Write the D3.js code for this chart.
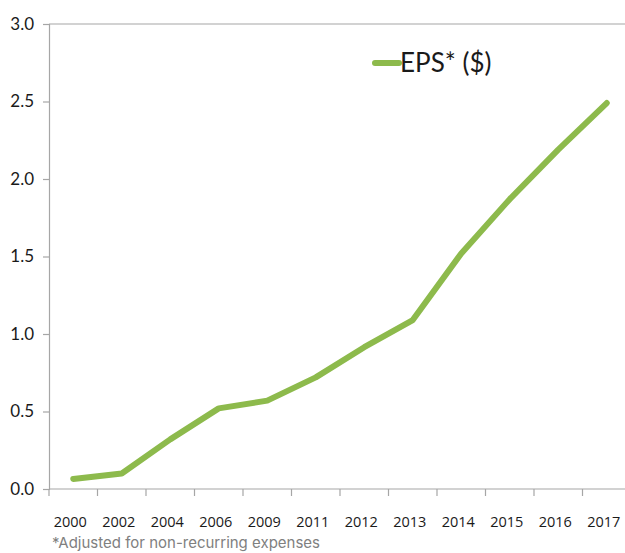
<!DOCTYPE html>
<html>
<head>
<meta charset="utf-8">
<script src="https://cdn.jsdelivr.net/npm/d3@7"></script>
<style>
  html, body { margin: 0; padding: 0; background: #fff; }
  svg { display: block; }
</style>
</head>
<body>
<svg id="chart" width="625" height="553"></svg>
<script>
// EPS history, adjusted for non-recurring expenses
const years = ["2000", "2002", "2004", "2006", "2009", "2011", "2012", "2013", "2014", "2015", "2016", "2017"];
const eps = [0.065, 0.10, 0.32, 0.52, 0.57, 0.72, 0.915, 1.09, 1.52, 1.87, 2.19, 2.49];
const yTicks = [0, 0.5, 1.0, 1.5, 2.0, 2.5, 3.0];
const seriesName = "EPS* ($)";
const footnote = "*Adjusted for non-recurring expenses";

const svg = d3.select("#chart");
const plot = { left: 49, right: 631, top: 24, bottom: 489 };
const green = "#8dba4c";
const axisGrey = "#a6a6a6";

const x = d3.scaleBand().domain(years).range([plot.left, plot.right]).paddingInner(0).paddingOuter(0);
const y = d3.scaleLinear().domain([0, 3]).range([plot.bottom, plot.top]);

// top frame line
svg.append("line")
  .attr("x1", plot.left).attr("x2", 625)
  .attr("y1", y(3)).attr("y2", y(3))
  .attr("stroke", axisGrey).attr("stroke-width", 1.2);

// y axis
const yAxis = svg.append("g")
  .attr("transform", `translate(${plot.left},0)`)
  .call(d3.axisLeft(y).tickValues(yTicks).tickFormat(d3.format(".1f")).tickSize(6).tickPadding(9));
yAxis.select(".domain").attr("stroke", axisGrey).attr("stroke-width", 1.2);
yAxis.selectAll(".tick line").attr("stroke", axisGrey).attr("stroke-width", 1.2);
yAxis.selectAll(".tick text")
  .attr("fill", "#1a1a1a")
  .style("font-family", "Lato, 'Open Sans', sans-serif")
  .style("font-size", "17px")
  .attr("dy", "0.32em");

// x axis: ticks at category boundaries, labels centred in each band
const xAxisG = svg.append("g").attr("transform", `translate(0,${plot.bottom})`);
xAxisG.append("line")
  .attr("x1", plot.left).attr("x2", 625)
  .attr("y1", 0).attr("y2", 0)
  .attr("stroke", axisGrey).attr("stroke-width", 1.2);
const boundaries = years.map(d => x(d)).concat([x(years[years.length - 1]) + x.bandwidth()]);
xAxisG.selectAll("line.tick")
  .data(boundaries)
  .join("line")
  .attr("class", "tick")
  .attr("x1", d => d).attr("x2", d => d)
  .attr("y1", 0).attr("y2", 7)
  .attr("stroke", axisGrey).attr("stroke-width", 1.2);
xAxisG.selectAll("text")
  .data(years)
  .join("text")
  .attr("x", d => x(d) + x.bandwidth() / 2 - 3)
  .attr("y", 38)
  .attr("text-anchor", "middle")
  .attr("fill", "#1a1a1a")
  .style("font-family", "'Open Sans', 'Noto Sans', sans-serif")
  .style("font-size", "14.5px")
  .text(d => d);

// EPS line
const line = d3.line()
  .x((d, i) => x(years[i]) + x.bandwidth() / 2)
  .y(d => y(d));
svg.append("path")
  .datum(eps)
  .attr("d", line)
  .attr("fill", "none")
  .attr("stroke", green)
  .attr("stroke-width", 6)
  .attr("stroke-linejoin", "round")
  .attr("stroke-linecap", "round");

// legend
const lg = svg.append("g").attr("transform", "translate(373,63)");
lg.append("line")
  .attr("x1", 2).attr("x2", 26).attr("y1", 0).attr("y2", 0)
  .attr("stroke", green).attr("stroke-width", 6)
  .attr("stroke-linecap", "round");
lg.append("text")
  .attr("x", 27).attr("y", 0).attr("dy", "0.35em")
  .attr("fill", "#1a1a1a")
  .style("font-family", "Lato, 'Open Sans', sans-serif")
  .style("font-size", "26px")
  .text(seriesName);

// footnote
svg.append("text")
  .attr("x", 52).attr("y", 548)
  .attr("fill", "#808080")
  .style("font-family", "Inter, Roboto, sans-serif")
  .style("font-size", "15px")
  .text(footnote);
</script>
</body>
</html>
